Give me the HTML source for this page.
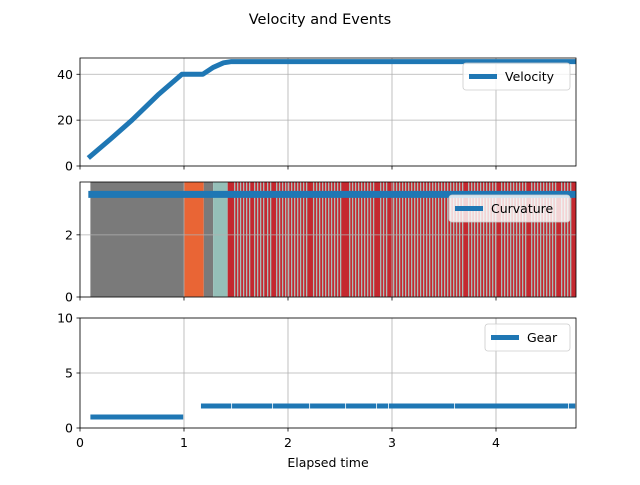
<!DOCTYPE html>
<html><head><meta charset="utf-8"><style>
body{margin:0;background:#fff;font-family:"Liberation Sans","DejaVu Sans",sans-serif;}
svg text{font-family:"DejaVu Sans","Liberation Sans",sans-serif;}
</style></head><body>
<svg id="chart" width="640" height="480" xmlns="http://www.w3.org/2000/svg">
<rect width="640" height="480" fill="#fff"/>
<text x="320" y="24" text-anchor="middle" font-size="14.5">Velocity and Events</text>
<g id="g"></g>
</svg>
<script>
const velT=[0.08,0.3,0.5,0.75,0.98,1.18,1.28,1.38,1.45,4.77];
const velV=[3.5,12,20,31,40,40,43,45,45.5,45.5];
const curvT=[0.08,4.77];
const curvV=[3.3,3.3];
const bgStarts=[0.1,1.0,1.19,1.28,1.42];
const bgEnds=[1.0,1.19,1.28,1.42,4.77];
const bgColors=["#7a7a7a","#e96535","#7a7a7a","#95bfb8","#c4282f"];
const stripeT=[1.481,1.510,1.538,1.567,1.596,1.625,1.673,1.702,1.731,1.760,1.798,1.827,1.885,1.913,1.942,1.971,2.000,2.029,2.058,2.087,2.115,2.144,2.173,2.240,2.269,2.298,2.327,2.356,2.385,2.413,2.442,2.471,2.500,2.587,2.615,2.644,2.673,2.702,2.731,2.760,2.788,2.817,2.885,2.913,2.942,3.010,3.038,3.067,3.096,3.125,3.154,3.183,3.212,3.240,3.269,3.298,3.327,3.356,3.385,3.413,3.442,3.471,3.500,3.529,3.558,3.587,3.615,3.644,3.673,3.731,3.760,3.788,3.817,3.846,3.875,3.904,3.933,3.962,3.990,4.048,4.077,4.106,4.135,4.163,4.192,4.221,4.250,4.279,4.337,4.365,4.394,4.423,4.452,4.481,4.510,4.538,4.567,4.625,4.654,4.683,4.712];
const gearStart=[0.1,1.163,1.462,1.856,2.212,2.558,2.856,2.971,3.606,4.702];
const gearEnd=[1.0,1.462,1.856,2.212,2.558,2.856,2.971,3.606,4.702,4.77];
const gearV=[1,2,2,2,2,2,2,2,2,2];
const xTicks=[0,1,2,3,4];
const velTicks=[0,20,40];
const curvTicks=[0,2];
const gearTicks=[0,5,10];

const NS="http://www.w3.org/2000/svg";
const G=document.getElementById('g');
const L=80,R=576;
const xS=t=>L+t*104;
function mk(tag,at,parent){const e=document.createElementNS(NS,tag);for(const k in at)e.setAttribute(k,at[k]);(parent||G).appendChild(e);return e;}
const panels=[
 {top:58,bot:166,max:47.1,ticks:velTicks,name:'velocity'},
 {top:182,bot:297,max:3.7,ticks:curvTicks,name:'curvature'},
 {top:318,bot:428,max:10,ticks:gearTicks,name:'gear'}];
panels.forEach(p=>{p.y=v=>p.bot-(v/p.max)*(p.bot-p.top);});
const [P1,P2,P3]=panels;

// backgrounds for curvature
bgStarts.forEach((s,i)=>{
 const r=mk('rect',{x:xS(s),y:P2.top,width:Math.min(xS(bgEnds[i]),R)-xS(s),height:P2.bot-P2.top,fill:bgColors[i]});
 
 
});
stripeT.forEach(t=>{
 const r=mk('rect',{x:xS(t),y:P2.top,width:1.3,height:P2.bot-P2.top,fill:'#a9bdb9'});
 
 
});

panels.forEach((p,pi)=>{
 // grid
 xTicks.forEach(t=>{mk('line',{x1:xS(t),x2:xS(t),y1:p.top,y2:p.bot,stroke:'#b0b0b0','stroke-width':0.8});});
 p.ticks.forEach(v=>{mk('line',{x1:L,x2:R,y1:p.y(v),y2:p.y(v),stroke:'#b0b0b0','stroke-width':0.8});
  mk('line',{x1:L-3.5,x2:L,y1:p.y(v),y2:p.y(v),stroke:'#000','stroke-width':0.8});
  const tx=mk('text',{x:L-7,y:p.y(v)+4.5,'text-anchor':'end','font-size':12.5});tx.textContent=v;
  
  
 });
 xTicks.forEach(t=>{mk('line',{x1:xS(t),x2:xS(t),y1:p.bot,y2:p.bot+3.5,stroke:'#000','stroke-width':0.8});});
});

// velocity line
const vl=mk('polyline',{points:velT.map((t,i)=>xS(t)+','+P1.y(velV[i])).join(' '),fill:'none',stroke:'#1f77b4','stroke-width':5,'stroke-linejoin':'round'});


const cl=mk('polyline',{points:curvT.map((t,i)=>xS(t)+','+P2.y(curvV[i])).join(' '),fill:'none',stroke:'#1f77b4','stroke-width':7});


gearStart.forEach((s,i)=>{
 const ln=mk('line',{x1:xS(s),x2:Math.min(xS(gearEnd[i]),R)-0.8,y1:P3.y(gearV[i]),y2:P3.y(gearV[i]),stroke:'#1f77b4','stroke-width':5});
 
 
});
// mask overflow right
mk('rect',{x:R+0.5,y:0,width:64,height:480,fill:'#fff'});

panels.forEach(p=>{
 const f=mk('rect',{x:L,y:p.top,width:R-L,height:p.bot-p.top,fill:'none',stroke:'#000','stroke-width':0.8});
 
 
});
xTicks.forEach(t=>{const tx=mk('text',{x:xS(t),y:447,'text-anchor':'middle','font-size':12.5});tx.textContent=t;
 
 });
const xl=mk('text',{x:328,y:467,'text-anchor':'middle','font-size':12.5});xl.textContent='Elapsed time';



function legend(x,y,w,label,name){
 const g=mk('g',{});
 
 
 mk('rect',{x:x,y:y,width:w,height:27,rx:3,fill:'rgba(255,255,255,0.8)',stroke:'#ccc','stroke-width':0.8},g);
 mk('line',{x1:x+6,x2:x+34,y1:y+13.5,y2:y+13.5,stroke:'#1f77b4','stroke-width':5},g);
 const t=mk('text',{x:x+42,y:y+18,'font-size':12.5},g);t.textContent=label;
}
legend(463,63,107,'Velocity','legend-velocity');
legend(449,195,121,'Curvature','legend-curvature');
legend(485,324,85,'Gear','legend-gear');
</script>
</body></html>
